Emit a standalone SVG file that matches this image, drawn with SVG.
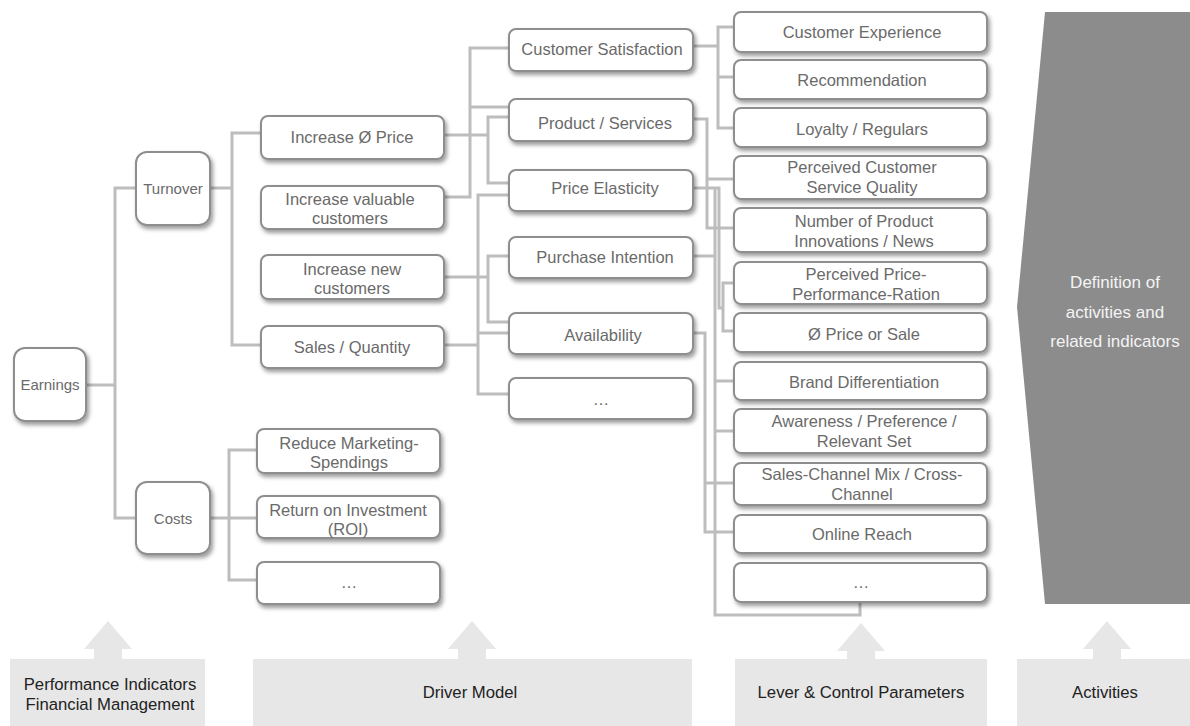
<svg xmlns="http://www.w3.org/2000/svg" width="1190" height="726" viewBox="0 0 1190 726">
  <defs>
    <filter id="shadow" x="-10%" y="-20%" width="125%" height="160%">
      <feDropShadow dx="2" dy="3" stdDeviation="2" flood-color="#000" flood-opacity="0.4"/>
    </filter>
    <style>
      .box { fill: #ffffff; stroke: #8e8e8e; stroke-width: 2; filter: url(#shadow); }
      .lbl { font-family: "Liberation Sans", Arial, sans-serif; font-size: 16.5px; fill: #6a6a6a; text-anchor: middle; }
      .sm { font-size: 15px; }
      .link { fill: none; stroke: #bdbdbd; stroke-width: 3; }
      .band { fill: #e7e7e7; }
      .bandtxt { font-family: "Liberation Sans", Arial, sans-serif; font-size: 16.7px; fill: #222222; text-anchor: middle; }
      .act { fill: #8c8c8c; }
      .acttxt { font-family: "Liberation Sans", Arial, sans-serif; font-size: 17px; fill: #f4f4f4; text-anchor: middle; }
    </style>
  </defs>

  <rect width="1190" height="726" fill="#ffffff"/>

  <!-- connectors -->
  <g id="connectors" class="link">
    <!-- Earnings -> Turnover / Costs -->
    <path d="M86,385 H115 M136,188 H115 V518 H136"/>
    <!-- Turnover -> price / quantity -->
    <path d="M210,188 H232 M261,133 H232 V345 H261"/>
    <!-- Costs -> cost drivers -->
    <path d="M210,518 H257 M257,450 H229 V580 H257"/>
    <!-- Increase valuable customers -->
    <path d="M444,197 H470 V48 H509 M470,107 H509"/>
    <!-- Increase average price -->
    <path d="M444,135 H488 M509,117 H488 V183 H509"/>
    <!-- Increase new customers -->
    <path d="M444,277 H488 M509,256 H488 V322 H509"/>
    <!-- Sales / Quantity -->
    <path d="M444,345 H478 M509,195 H478 V394 H509 M478,333 H509"/>
    <!-- Customer Satisfaction -> levers -->
    <path d="M693,46 H718 M734,27 H718 V128 H734 M718,77 H734"/>
    <!-- Product / Services -> levers -->
    <path d="M693,119 H707 V228 H734 M707,179 H734"/>
    <!-- Price Elasticity -> price levers -->
    <path d="M693,188 H719 V308 H723 M734,283 H723 V331 H734"/>
    <!-- Price Elasticity / Purchase Intention -> trunk down to the last lever -->
    <path d="M715,188 V615 H860 V603 M693,256 H715 M715,381 H734 M715,431 H734"/>
    <!-- Availability -> channel levers -->
    <path d="M693,333 H705 V532 H734 M705,483 H734"/>
  </g>

  <!-- level 1 -->
  <g id="n-earnings"><rect class="box" x="14" y="348" width="72" height="73" rx="11"/><text class="lbl sm" x="50" y="390">Earnings</text></g>
  <g id="n-turnover"><rect class="box" x="136" y="152" width="74" height="73" rx="11"/><text class="lbl sm" x="173" y="194">Turnover</text></g>
  <g id="n-costs"><rect class="box" x="136" y="482" width="74" height="72" rx="11"/><text class="lbl sm" x="173" y="524">Costs</text></g>

  <!-- level 2 -->
  <g id="n-price"><rect class="box" x="261" y="116" width="183" height="43" rx="7"/><text class="lbl" x="352" y="143">Increase Ø Price</text></g>
  <g id="n-valuable"><rect class="box" x="261" y="186" width="183" height="43" rx="7"/><text class="lbl" x="350" y="205">Increase valuable</text><text class="lbl" x="350" y="224">customers</text></g>
  <g id="n-new"><rect class="box" x="261" y="255" width="183" height="44" rx="7"/><text class="lbl" x="352" y="275">Increase new</text><text class="lbl" x="352" y="294">customers</text></g>
  <g id="n-quantity"><rect class="box" x="261" y="326" width="183" height="42" rx="7"/><text class="lbl" x="352" y="353">Sales / Quantity</text></g>
  <g id="n-marketing"><rect class="box" x="257" y="429" width="183" height="44" rx="7"/><text class="lbl" x="349" y="449">Reduce Marketing-</text><text class="lbl" x="349" y="468">Spendings</text></g>
  <g id="n-roi"><rect class="box" x="257" y="496" width="183" height="42" rx="7"/><text class="lbl" x="348" y="516">Return on Investment</text><text class="lbl" x="348" y="535">(ROI)</text></g>
  <g id="n-cost-more"><rect class="box" x="257" y="562" width="183" height="42" rx="7"/><text class="lbl" x="349" y="588">…</text></g>

  <!-- level 3 -->
  <g id="n-satisfaction"><rect class="box" x="509" y="29" width="184" height="42" rx="7"/><text class="lbl" x="602" y="55">Customer Satisfaction</text></g>
  <g id="n-product"><rect class="box" x="509" y="99" width="184" height="42" rx="7"/><text class="lbl" x="605" y="129">Product / Services</text></g>
  <g id="n-elasticity"><rect class="box" x="509" y="170" width="184" height="41" rx="7"/><text class="lbl" x="605" y="194">Price Elasticity</text></g>
  <g id="n-intention"><rect class="box" x="509" y="237" width="184" height="41" rx="7"/><text class="lbl" x="605" y="263">Purchase Intention</text></g>
  <g id="n-availability"><rect class="box" x="509" y="313" width="184" height="41" rx="7"/><text class="lbl" x="603" y="341">Availability</text></g>
  <g id="n-driver-more"><rect class="box" x="509" y="378" width="184" height="41" rx="7"/><text class="lbl" x="601" y="405">…</text></g>

  <!-- level 4: levers -->
  <g id="n-experience"><rect class="box" x="734" y="12" width="253" height="40" rx="7"/><text class="lbl" x="862" y="38">Customer Experience</text></g>
  <g id="n-recommendation"><rect class="box" x="734" y="60" width="253" height="39" rx="7"/><text class="lbl" x="862" y="86">Recommendation</text></g>
  <g id="n-loyalty"><rect class="box" x="734" y="108" width="253" height="39" rx="7"/><text class="lbl" x="862" y="135">Loyalty / Regulars</text></g>
  <g id="n-service"><rect class="box" x="734" y="156" width="253" height="43" rx="7"/><text class="lbl" x="862" y="173">Perceived Customer</text><text class="lbl" x="862" y="193">Service Quality</text></g>
  <g id="n-innovations"><rect class="box" x="734" y="208" width="253" height="44" rx="7"/><text class="lbl" x="864" y="227">Number of Product</text><text class="lbl" x="864" y="247">Innovations / News</text></g>
  <g id="n-ratio"><rect class="box" x="734" y="262" width="253" height="42" rx="7"/><text class="lbl" x="866" y="280">Perceived Price-</text><text class="lbl" x="866" y="300">Performance-Ration</text></g>
  <g id="n-avg-price"><rect class="box" x="734" y="313" width="253" height="39" rx="7"/><text class="lbl" x="864" y="340">Ø Price or Sale</text></g>
  <g id="n-brand"><rect class="box" x="734" y="362" width="253" height="38" rx="7"/><text class="lbl" x="864" y="388">Brand Differentiation</text></g>
  <g id="n-awareness"><rect class="box" x="734" y="409" width="253" height="44" rx="7"/><text class="lbl" x="864" y="427">Awareness / Preference /</text><text class="lbl" x="864" y="447">Relevant Set</text></g>
  <g id="n-channel"><rect class="box" x="734" y="463" width="253" height="42" rx="7"/><text class="lbl" x="862" y="480">Sales-Channel Mix / Cross-</text><text class="lbl" x="862" y="500">Channel</text></g>
  <g id="n-reach"><rect class="box" x="734" y="515" width="253" height="38" rx="7"/><text class="lbl" x="862" y="540">Online Reach</text></g>
  <g id="n-lever-more"><rect class="box" x="734" y="563" width="253" height="39" rx="7"/><text class="lbl" x="861" y="588">…</text></g>

  <!-- activities panel -->
  <g id="n-activities">
    <polygon class="act" points="1045,12 1190,12 1190,604 1045,604 1017,307"/>
    <text class="acttxt" x="1115" y="288">Definition of</text>
    <text class="acttxt" x="1115" y="318">activities and</text>
    <text class="acttxt" x="1115" y="347">related indicators</text>
  </g>

  <!-- layer bands with up arrows -->
  <g id="band-kpi">
    <polygon class="band" points="108,621 132,649 122,649 122,660 94,660 94,649 84,649"/>
    <rect class="band" x="10" y="659" width="195" height="67"/>
    <text class="bandtxt" x="110" y="690">Performance Indicators</text>
    <text class="bandtxt" x="110" y="710">Financial Management</text>
  </g>
  <g id="band-driver">
    <polygon class="band" points="472,621 496,649 486,649 486,660 458,660 458,649 448,649"/>
    <rect class="band" x="253" y="659" width="439" height="67"/>
    <text class="bandtxt" x="470" y="698">Driver Model</text>
  </g>
  <g id="band-lever">
    <polygon class="band" points="861,623 885,651 875,651 875,660 847,660 847,651 837,651"/>
    <rect class="band" x="735" y="659" width="252" height="67"/>
    <text class="bandtxt" x="861" y="698">Lever &amp; Control Parameters</text>
  </g>
  <g id="band-activities">
    <polygon class="band" points="1107,621 1131,649 1121,649 1121,660 1093,660 1093,649 1083,649"/>
    <rect class="band" x="1017" y="659" width="173" height="67"/>
    <text class="bandtxt" x="1105" y="698">Activities</text>
  </g>
</svg>
